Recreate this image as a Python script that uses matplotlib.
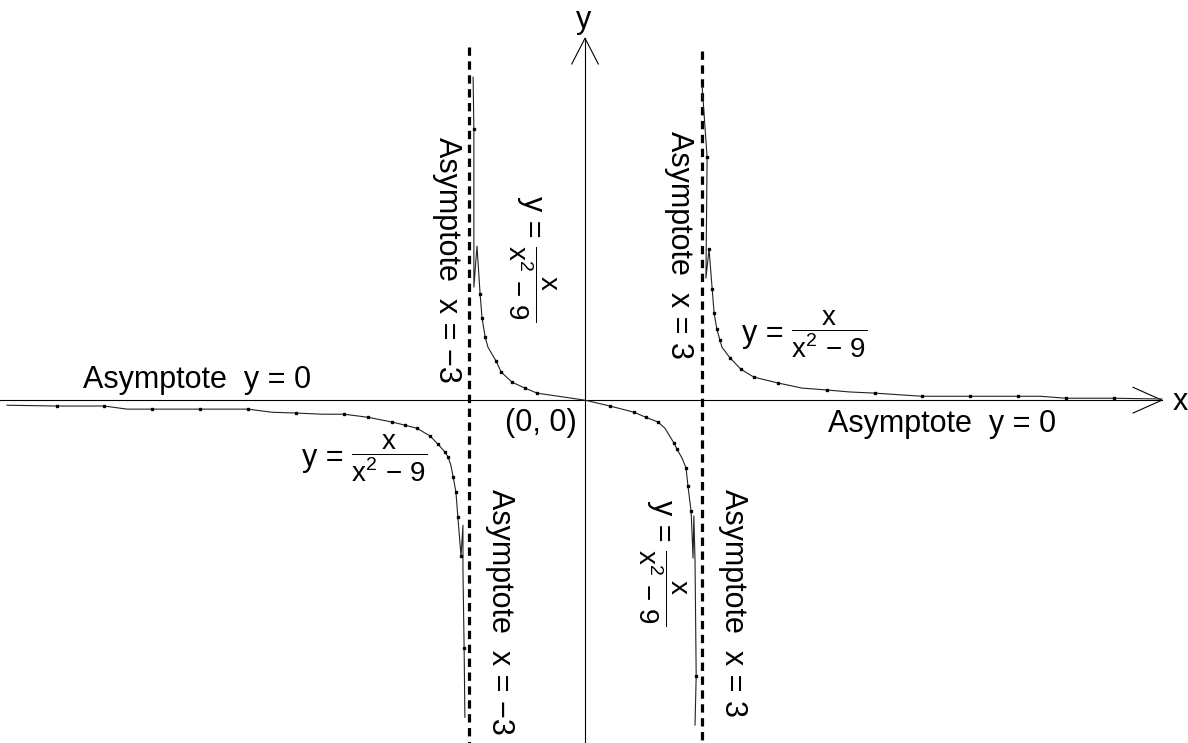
import matplotlib
matplotlib.use("Agg")
import matplotlib.pyplot as plt

plt.rcParams['font.family'] = ['Liberation Sans', 'DejaVu Sans']
plt.rcParams['mathtext.fontset'] = 'custom'
plt.rcParams['mathtext.rm'] = 'Liberation Sans'
plt.rcParams['mathtext.it'] = 'Liberation Sans'
plt.rcParams['mathtext.bf'] = 'Liberation Sans:bold'
plt.rcParams['lines.scale_dashes'] = False

# ---- data (x, y in chart units) ----
left_x = [-14.82, -13.54, -12.33, -11.74, -11.10, -9.87, -8.64, -8.03, -7.41, -6.74,
          -6.18, -5.56, -4.95, -4.62, -4.31, -3.97, -3.77, -3.59, -3.51, -3.44,
          -3.38, -3.31, -3.26, -3.18, -3.13, -3.13, -3.10, -3.08]
left_y = [-0.13, -0.15, -0.15, -0.23, -0.23, -0.23, -0.23, -0.31, -0.33, -0.36,
          -0.36, -0.44, -0.56, -0.64, -0.72, -0.92, -1.13, -1.33, -1.46, -1.67,
          -1.97, -2.36, -3.00, -4.00, -3.21, -4.36, -6.36, -8.13]
left_marks = [1, 2, 4, 5, 6, 8, 10, 11, 12, 13, 14, 15, 16, 17, 18, 20, 21, 22, 23, 26]

mid_x = [-2.87, -2.85, -2.85, -2.77, -2.69, -2.64, -2.56, -2.49, -2.28, -2.15,
         -1.87, -1.54, -1.23, 0.0, 0.64, 1.26, 1.56, 1.87, 2.05, 2.28,
         2.36, 2.49, 2.59, 2.64, 2.72, 2.77, 2.79, 2.82, 2.85, 2.82]
mid_y = [8.28, 6.95, 2.90, 3.95, 2.72, 2.10, 1.62, 1.36, 1.00, 0.72,
         0.46, 0.31, 0.18, 0.0, -0.15, -0.31, -0.44, -0.56, -0.72, -1.10,
         -1.26, -1.49, -1.74, -2.21, -2.85, -4.05, -2.97, -4.10, -7.08, -8.33]
mid_marks = [1, 4, 5, 6, 8, 9, 10, 11, 12, 14, 15, 16, 17, 19, 20, 22, 23, 24, 28]

right_x = [3.00, 3.13, 3.10, 3.18, 3.26, 3.31, 3.38, 3.46, 3.51, 3.72,
           4.00, 4.33, 4.95, 5.56, 6.21, 6.79, 7.44, 8.64, 9.87, 11.10,
           11.67, 12.33, 13.56, 14.79]
right_y = [8.08, 6.23, 3.13, 3.87, 2.85, 2.23, 1.82, 1.54, 1.36, 1.08,
           0.79, 0.59, 0.44, 0.31, 0.26, 0.21, 0.18, 0.10, 0.10, 0.10,
           0.10, 0.05, 0.05, 0.03]
right_marks = [1, 3, 4, 5, 6, 7, 9, 10, 11, 12, 14, 16, 17, 18, 19, 21, 22]

asymptotes_x = [-2.97, 3.0]

# ---- figure ----
fig = plt.figure(figsize=(11.88, 7.43), dpi=100)
ax = fig.add_axes([0, 0, 1, 1])
ax.set_xlim(-15.0, 15.46)
ax.set_ylim(-8.79, 10.26)
ax.axis('off')

# axes with arrows
ax.plot([-15.0, 14.79], [0, 0], color='black', lw=0.8)
ax.plot([14.05, 14.79, 14.05], [0.33, 0, -0.33], color='black', lw=0.8)
ax.plot([0, 0], [-8.79, 9.28], color='black', lw=0.8)
ax.plot([-0.34, 0, 0.34], [8.62, 9.28, 8.62], color='black', lw=0.8)

# asymptotes
ax.plot([asymptotes_x[0]] * 2, [9.05, -8.79], color='black', lw=2.3,
        linestyle=(0, (6.0, 4.0)))
ax.plot([asymptotes_x[1]] * 2, [8.95, -8.79], color='black', lw=2.3,
        linestyle=(0, (6.0, 4.0)))

# curve branches
for xs, ys, mk in [(left_x, left_y, left_marks), (mid_x, mid_y, mid_marks),
                   (right_x, right_y, right_marks)]:
    ax.plot(xs, ys, color='#222222', lw=0.8, marker='s', markersize=2.0,
            markevery=mk, markerfacecolor='black', markeredgecolor='black')

fs = 22
ax.text(-0.05, 9.74, 'y', fontsize=fs, ha='center', va='center')
ax.text(15.26, -0.05, 'x', fontsize=fs, ha='center', va='center')
ax.text(-12.87, 0.31, 'Asymptote  y = 0', fontsize=fs, ha='left', va='baseline')
ax.text(6.23, -0.82, 'Asymptote  y = 0', fontsize=fs, ha='left', va='baseline')
ax.text(-0.21, -0.79, '(0, 0)', fontsize=fs, ha='right', va='baseline')


def frac_label(px, py, rot):
    """y = x/(x^2-9) label centred at pixel-ish position (px, py) of the reference."""
    xd, yd = (px - 585) / 39, (400 - py) / 39

    def off(a, b):
        # local (reading-direction a, up b) -> display pixel offset
        if rot == 0:
            return (a, b)
        return (b, -a)

    ax.annotate('y =', (xd, yd), xytext=off(-59, -8), textcoords='offset pixels',
                fontsize=fs, ha='left', va='baseline', rotation=rot,
                rotation_mode='anchor')
    ax.annotate(r'$\dfrac{\mathrm{x}}{\mathrm{x}^{2}\, -\, 9}$', (xd, yd),
                xytext=off(28, 0), textcoords='offset pixels',
                fontsize=20, ha='center', va='center', rotation=rot,
                rotation_mode='anchor')


frac_label(801, 334, 0)
frac_label(361, 458, 0)
frac_label(532, 255, -90)
frac_label(662, 559, -90)

# rotated asymptote labels
ax.text((447 - 585) / 39, (400 - 260) / 39, 'Asymptote  x = \u22123', fontsize=fs,
        ha='center', va='center', rotation=-90)
ax.text((679 - 585) / 39, (400 - 245) / 39, 'Asymptote  x = 3', fontsize=fs,
        ha='center', va='center', rotation=-90)
ax.text((500 - 585) / 39, (400 - 612) / 39, 'Asymptote  x = \u22123', fontsize=fs,
        ha='center', va='center', rotation=-90)
ax.text((733 - 585) / 39, (400 - 603) / 39, 'Asymptote  x = 3', fontsize=fs,
        ha='center', va='center', rotation=-90)

fig.savefig('out.png', dpi=100)
